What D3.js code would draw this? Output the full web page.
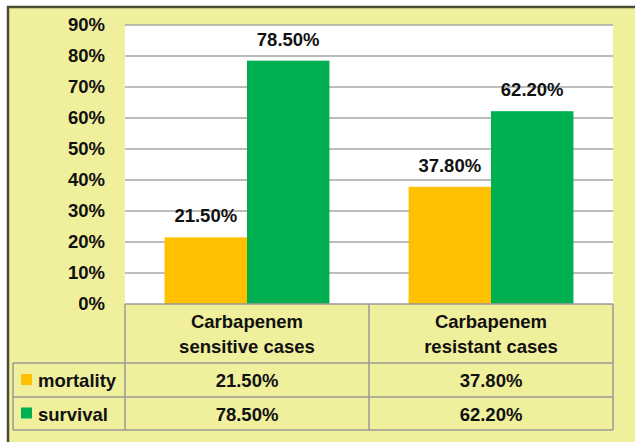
<!DOCTYPE html>
<html>
<head>
<meta charset="utf-8">
<script src="https://cdn.jsdelivr.net/npm/d3@7"></script>
<style>
  body { margin: 0; background: #fff; }
  svg { display: block; font-family: "Liberation Sans", Arial, sans-serif; font-weight: bold; }
</style>
</head>
<body>
<div id="chart"></div>
<script>
var width = 635;
var height = 442;

// data
var categories = ["Carbapenem sensitive cases", "Carbapenem resistant cases"];
var categoryLines = [["Carbapenem", "sensitive cases"], ["Carbapenem", "resistant cases"]];
var seriesNames = ["mortality", "survival"];
var seriesColors = ["#ffc000", "#00b050"];
var mortality = [21.5, 37.8];
var survival = [78.5, 62.2];
var yTicks = [0, 10, 20, 30, 40, 50, 60, 70, 80, 90];

var seriesValues = [mortality, survival];
var fmt = function(v) { return v.toFixed(2) + "%"; };
var fontSize = 18.5;

var svg = d3.select("#chart")
  .append("svg")
    .attr("width", width)
    .attr("height", height);

// chart frame
svg.append("rect")
    .attr("x", 8).attr("y", 7)
    .attr("width", width + 10).attr("height", height + 10)
    .attr("fill", "#efef9c")
    .attr("stroke", "#4d4d33")
    .attr("stroke-width", 2.5);

var plotLeft = 125, plotRight = 613, plotTop = 25, plotBottom = 304;

var x0 = d3.scaleBand()
    .domain(categories)
    .range([plotLeft, plotRight]);

var x1 = d3.scaleBand()
    .domain(seriesNames)
    .range([0, x0.bandwidth()])
    .paddingOuter(0.48);

var y = d3.scaleLinear()
    .domain([0, 90])
    .range([plotBottom, plotTop]);

var color = d3.scaleOrdinal().domain(seriesNames).range(seriesColors);

// plot area
svg.append("rect")
    .attr("x", plotLeft).attr("y", plotTop)
    .attr("width", plotRight - plotLeft).attr("height", plotBottom - plotTop)
    .attr("fill", "#fff");

// gridlines
svg.append("g")
  .selectAll("line")
    .data(yTicks.filter(function(d) { return d > 0; }))
  .enter().append("line")
    .attr("x1", plotLeft).attr("x2", plotRight)
    .attr("y1", function(d) { return y(d); })
    .attr("y2", function(d) { return y(d); })
    .attr("stroke", "#a6a6a6")
    .attr("stroke-width", 1.5);

// y axis labels
var yAxis = d3.axisLeft(y)
    .tickValues(yTicks)
    .tickSize(0)
    .tickPadding(20)
    .tickFormat(function(d) { return d + "%"; });

svg.append("g")
    .attr("transform", "translate(" + plotLeft + ",0)")
    .call(yAxis)
    .call(function(g) { g.select(".domain").remove(); })
    .selectAll("text")
      .attr("font-family", "'Liberation Sans', Arial, sans-serif")
      .attr("font-weight", "bold")
      .attr("font-size", fontSize)
      .attr("fill", "#111");

// bars
var groups = svg.append("g")
  .selectAll("g")
    .data(categories)
  .enter().append("g")
    .attr("transform", function(d) { return "translate(" + x0(d) + ",0)"; });

var barData = function(d, i) {
  return seriesNames.map(function(s, j) { return { series: s, value: seriesValues[j][i] }; });
};

groups.selectAll("rect")
    .data(barData)
  .enter().append("rect")
    .attr("x", function(d) { return x1(d.series); })
    .attr("y", function(d) { return y(d.value); })
    .attr("width", x1.bandwidth())
    .attr("height", function(d) { return plotBottom - y(d.value); })
    .attr("fill", function(d) { return color(d.series); });

groups.selectAll("text")
    .data(barData)
  .enter().append("text")
    .attr("x", function(d) { return x1(d.series) + x1.bandwidth() / 2; })
    .attr("y", function(d) { return y(d.value) - 15; })
    .attr("text-anchor", "middle")
    .attr("font-size", fontSize)
    .attr("fill", "#111")
    .text(function(d) { return fmt(d.value); });

// data table
var tableLeft = 13;
var rowTops = [plotBottom, 363, 397, 430];
var grid = svg.append("g")
    .attr("stroke", "#9a9a9a")
    .attr("stroke-width", 1.5)
    .attr("fill", "none");

grid.append("line")
    .attr("x1", plotLeft).attr("x2", plotRight)
    .attr("y1", rowTops[0]).attr("y2", rowTops[0]);
rowTops.slice(1).forEach(function(ry) {
  grid.append("line")
      .attr("x1", tableLeft).attr("x2", plotRight)
      .attr("y1", ry).attr("y2", ry);
});
grid.append("line")
    .attr("x1", tableLeft).attr("x2", tableLeft)
    .attr("y1", rowTops[1]).attr("y2", rowTops[3]);
[plotLeft].concat(categories.map(function(c) { return x0(c) + x0.bandwidth(); })).forEach(function(cx) {
  grid.append("line")
      .attr("x1", cx).attr("x2", cx)
      .attr("y1", rowTops[0]).attr("y2", rowTops[3]);
});

// category header
svg.append("g")
  .selectAll("text")
    .data(categories)
  .enter().append("text")
    .attr("x", function(d) { return x0(d) + x0.bandwidth() / 2; })
    .attr("text-anchor", "middle")
    .attr("font-size", fontSize)
    .attr("fill", "#111")
  .selectAll("tspan")
    .data(function(d, i) { return categoryLines[i]; })
  .enter().append("tspan")
    .attr("x", function() { var c = d3.select(this.parentNode).datum(); return x0(c) + x0.bandwidth() / 2; })
    .attr("y", function(d, i) { return 327.5 + i * 25; })
    .text(function(d) { return d; });

// series rows
var rows = svg.append("g")
  .selectAll("g")
    .data(seriesNames)
  .enter().append("g")
    .attr("transform", function(d, i) { return "translate(0," + (rowTops[i + 1] + rowTops[i + 2]) / 2 + ")"; });

rows.append("rect")
    .attr("x", 21).attr("y", -6)
    .attr("width", 11).attr("height", 11)
    .attr("fill", function(d) { return color(d); });

rows.append("text")
    .attr("x", 38).attr("y", 7)
    .attr("font-size", fontSize)
    .attr("fill", "#111")
    .text(function(d) { return d; });

rows.selectAll(".val")
    .data(function(d, i) { return seriesValues[i]; })
  .enter().append("text")
    .attr("class", "val")
    .attr("x", function(d, i) { return x0(categories[i]) + x0.bandwidth() / 2; })
    .attr("y", 7)
    .attr("text-anchor", "middle")
    .attr("font-size", fontSize)
    .attr("fill", "#111")
    .text(function(d) { return fmt(d); });
</script>
</body>
</html>
